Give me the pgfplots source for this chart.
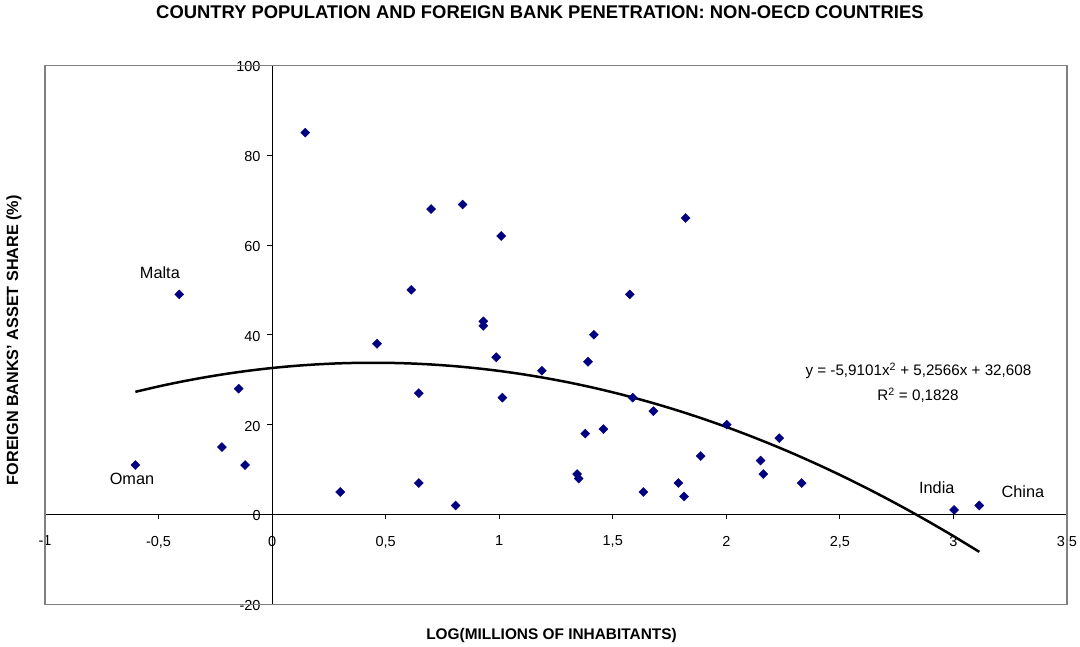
\documentclass[border=0pt]{standalone}
\usepackage{pgfplots}
\pgfplotsset{compat=1.18}
\usepackage{fontspec}
\setmainfont{Liberation Sans}
\definecolor{excelnavy}{RGB}{0,0,128}
\definecolor{framegray}{RGB}{128,128,128}

\pgfplotstableread{
x y
0.146 85
-0.409 49
0.462 38
-0.602 11
-0.221 15
-0.147 28
-0.119 11
0.300 5
0.613 50
0.700 68
0.839 69
0.930 43
0.930 42
1.009 62
1.417 40
1.575 49
1.821 66
0.646 27
0.646 7
0.808 2
0.987 35
1.014 26
1.188 32
1.343 9
1.350 8
1.379 18
1.391 34
1.459 19
1.588 26
1.635 5
1.679 23
1.789 7
1.814 4
1.887 13
2.002 20
2.151 12
2.163 9
2.233 17
2.332 7
3.003 1
3.114 2
}\countries

% Excel polynomial trendline, values read at 0.1 steps
\pgfplotstableread{
x y
-0.602 27.302
-0.5 28.502
-0.4 29.560
-0.3 30.499
-0.2 31.320
-0.1 32.023
0.0 32.608
0.1 33.075
0.2 33.423
0.3 33.653
0.4 33.765
0.5 33.759
0.6 33.634
0.7 33.392
0.8 33.031
0.9 32.552
1.0 31.954
1.1 31.239
1.2 30.405
1.3 29.453
1.4 28.384
1.5 27.195
1.6 25.889
1.7 24.464
1.8 22.921
1.9 21.260
2.0 19.481
2.1 17.583
2.2 15.568
2.3 13.434
2.4 11.182
2.5 8.811
2.6 6.323
2.7 3.716
2.8 0.991
2.9 -1.852
3.0 -4.813
3.1 -7.893
3.114 -8.333
}\trend

\begin{document}
\begin{tikzpicture}[x=1pt,y=1pt]
\path[use as bounding box] (0,0) rectangle (1080,647);
\begin{axis}[
  at={(45pt,42.7pt)}, anchor=south west,
  scale only axis, width=1022pt, height=539pt,
  xmin=-1, xmax=3.5, ymin=-20, ymax=100,
  clip=false,
  axis lines=middle,
  hide obscured x ticks=false, hide obscured y ticks=false,
  axis line style={-, black, line width=0.8pt},
  xtick={-1,-0.5,...,3.5}, ytick={-20,0,...,100},
  tick align=outside, major tick length=5pt,
  tick style={black, line width=0.8pt},
  /pgf/number format/use comma,
  /pgf/number format/assume math mode=true,
  tick label style={font=\fontsize{14.5}{16}\selectfont},
  xticklabel style={yshift=-13pt},
  yticklabel style={xshift=-3pt, yshift=-1.5pt},
  title={COUNTRY POPULATION AND FOREIGN BANK PENETRATION: NON-OECD COUNTRIES},
  title style={at={(axis description cs:0.4843,1)}, anchor=center, yshift=47.3pt,
    font=\bfseries\fontsize{18.4}{20}\selectfont},
  xlabel={LOG(MILLIONS OF INHABITANTS)},
  xlabel style={at={(axis description cs:0.4956,-0.0583)}, anchor=center,
    font=\bfseries\fontsize{15.4}{17}\selectfont},
  ylabel={FOREIGN BANKS' ASSET SHARE (\%)},
  ylabel style={at={(axis description cs:-0.0303,0.490)}, anchor=center, rotate=90,
    font=\bfseries\fontsize{16.2}{18}\selectfont},
]
\draw[framegray, line width=1.5pt] (rel axis cs:0,0) rectangle (rel axis cs:1,1);
\addplot[black, line width=2.5pt, smooth, no marks] table {\trend};
\addplot[only marks, mark=square*, mark size=3.2pt,
  mark options={rotate=45, fill=excelnavy, draw=excelnavy}] table {\countries};
\begin{scope}[font=\fontsize{16.3}{18}\selectfont]
\node at (axis cs:-0.494,53.8) {Malta};
\node at (axis cs:-0.617,7.9) {Oman};
\node at (axis cs:2.927,6.0) {India};
\node at (axis cs:3.306,5.1) {China};
\end{scope}
\begin{scope}[font=\fontsize{15.2}{17}\selectfont]
\node at (axis cs:2.846,32.0) {y = -5,9101x\textsuperscript{2} + 5,2566x + 32,608};
\node at (axis cs:2.844,26.6) {R\textsuperscript{2} = 0,1828};
\end{scope}
\end{axis}
\end{tikzpicture}
\end{document}
